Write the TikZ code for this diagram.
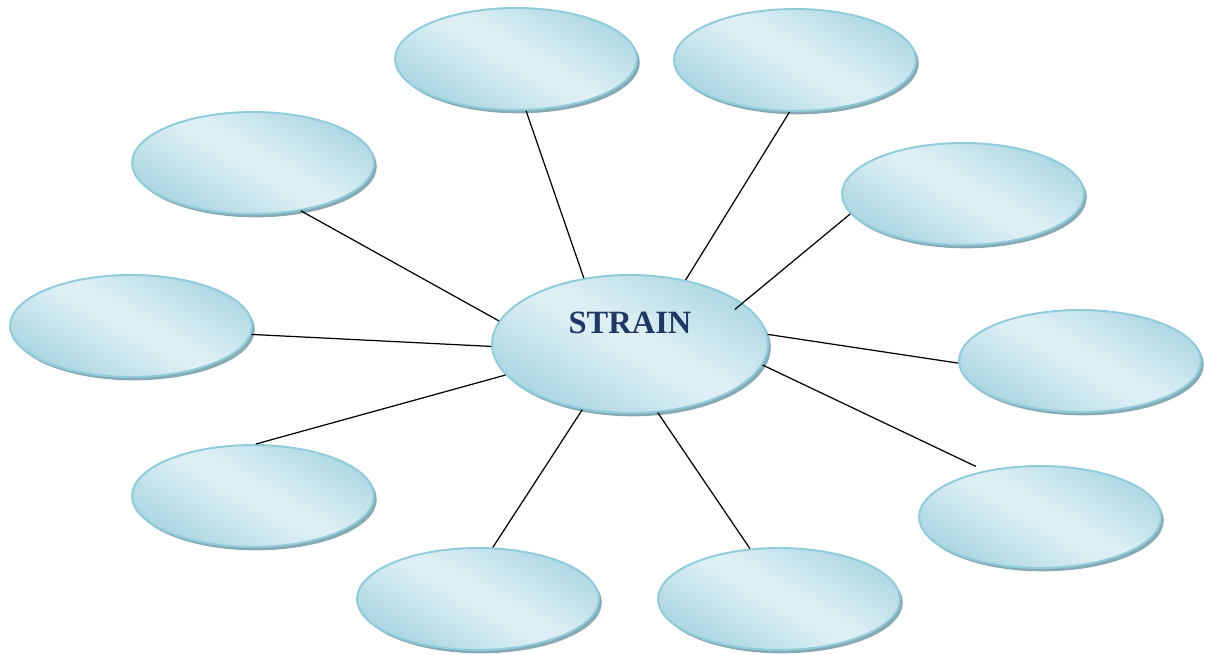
\documentclass[tikz,border=0pt]{standalone}
\usepackage{fontspec}
\setmainfont{Liberation Serif}
\usetikzlibrary{shapes.geometric,shadows}
\definecolor{ellborder}{HTML}{8FCBDA}
\definecolor{elldark}{HTML}{A3D2DF}
\definecolor{elllight}{HTML}{DDEFF4}
\definecolor{ellshadow}{HTML}{86A9B4}
\definecolor{titleblue}{HTML}{1F3864}
\pgfdeclarehorizontalshading{bubbleshade}{100bp}{color(0bp)=(elldark); color(22bp)=(elldark); color(48bp)=(elllight); color(54bp)=(elllight); color(80bp)=(elldark); color(100bp)=(elldark)}
\tikzset{
  bubble/.style={ellipse, draw=ellborder, line width=1.1pt, shading=bubbleshade, shading angle=60,
    inner sep=0pt, minimum width=4.84cm, minimum height=2.04cm,
    drop shadow={shadow xshift=1.6pt, shadow yshift=-1.9pt, fill=ellshadow, opacity=1}},
  hub/.style={bubble, minimum width=5.52cm, minimum height=2.76cm},
  spoke/.style={line width=0.7pt, black}
}
\begin{document}
\begin{tikzpicture}[x=0.02cm,y=-0.02cm]
\useasboundingbox (0,0) rectangle (1205,655);
\node[hub, label={[font=\bfseries\fontsize{18.5}{22}\selectfont, text=titleblue, yshift=0.42cm]center:STRAIN}] (c) at (630,344) {};
\node[bubble] (t1) at (516,59) {};
\node[bubble] (t2) at (795,60) {};
\node[bubble] (lu) at (253,163) {};
\node[bubble] (ru) at (963,194) {};
\node[bubble] (lm) at (131,326) {};
\node[bubble] (rm) at (1080,361) {};
\node[bubble] (ll) at (253,496) {};
\node[bubble] (rl) at (1040,517) {};
\node[bubble] (b1) at (478,599) {};
\node[bubble] (b2) at (779,599) {};
\draw[spoke] (t1.281.7) -- (c.125.2);
\draw[spoke] (t2.264.5) -- (c.49.8);
\draw[spoke] (lu.315.6) -- (c.170.2);
\draw[spoke, shorten >=-0.2cm] (ru.190.8) -- (c.20);
\draw[spoke] (lm.356.8) -- (c.181.6);
\draw[spoke] (rm.181.9) -- (c.4.1);
\draw[spoke] (ll.87.8) -- (c.194.9);
\draw[spoke, shorten <=0.2cm] (rl.140.8) -- (c.351.1);
\draw[spoke] (b1.74.9) -- (c.234.1);
\draw[spoke] (b2.120.8) -- (c.292.8);
\end{tikzpicture}
\end{document}
